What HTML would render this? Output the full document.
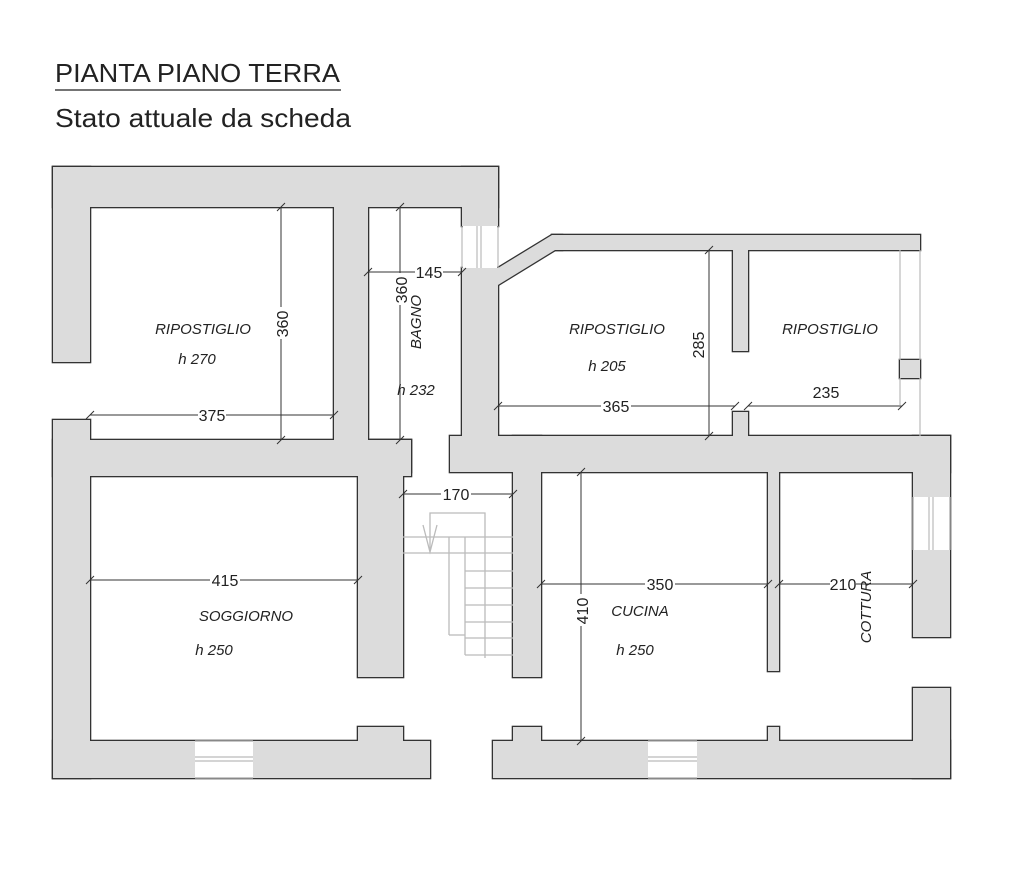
<!DOCTYPE html>
<html><head><meta charset="utf-8"><style>
html,body{margin:0;padding:0;background:#fff}
svg{display:block}
text{font-family:"Liberation Sans",sans-serif;fill:#222}
.it{font-style:italic;font-size:15px}
.d{font-size:16px}
</style></head><body>
<svg width="1024" height="879" viewBox="0 0 1024 879" xmlns="http://www.w3.org/2000/svg">
<rect width="1024" height="879" fill="#fff"/>
<text x="55" y="82" font-size="26" textLength="285" lengthAdjust="spacingAndGlyphs">PIANTA PIANO TERRA</text>
<line x1="55" y1="90" x2="341" y2="90" stroke="#222" stroke-width="1.2"/>
<text x="55" y="127" font-size="26" textLength="296" lengthAdjust="spacingAndGlyphs">Stato attuale da scheda</text>

<defs>
<g id="walls">
<rect x="53" y="167" width="445" height="40"/>
<rect x="53" y="167" width="37" height="195"/>
<rect x="334" y="200" width="34" height="250"/>
<rect x="462" y="167" width="36" height="59"/>
<rect x="462" y="268" width="36" height="180"/>
<polygon points="490,268 498,268 552,235 562,235 562,250 555,250 498,285 490,285"/>
<rect x="552" y="235" width="368" height="15"/>
<rect x="733" y="245" width="15" height="106"/>
<rect x="733" y="412" width="15" height="30"/>
<rect x="900" y="360" width="20" height="18"/>
<rect x="53" y="440" width="358" height="36"/>
<rect x="403" y="440" width="8" height="32"/>
<rect x="53" y="420" width="37" height="358"/>
<rect x="358" y="440" width="45" height="237"/>
<rect x="53" y="741" width="377" height="37"/>
<rect x="358" y="727" width="45" height="20"/>
<rect x="450" y="436" width="500" height="36"/>
<rect x="513" y="436" width="28" height="241"/>
<rect x="768" y="466" width="11" height="205"/>
<rect x="913" y="436" width="37" height="201"/>
<rect x="913" y="688" width="37" height="90"/>
<rect x="493" y="741" width="457" height="37"/>
<rect x="513" y="727" width="28" height="20"/>
<rect x="768" y="727" width="11" height="20"/>
</g>
</defs>
<use href="#walls" fill="#555" stroke="#333" stroke-width="2.6"/>
<use href="#walls" fill="#dcdcdc"/>

<!-- windows -->
<g stroke="#bbb" stroke-width="1.2" fill="#fff">
<rect x="463" y="226" width="34" height="42" stroke="none"/>
<line x1="462" y1="226" x2="462" y2="268"/><line x1="477" y1="226" x2="477" y2="268"/><line x1="481" y1="226" x2="481" y2="268"/><line x1="498" y1="226" x2="498" y2="268"/>
<rect x="195" y="742" width="58" height="35" stroke="none"/>
<line x1="195" y1="741" x2="253" y2="741"/><line x1="195" y1="757" x2="253" y2="757"/><line x1="195" y1="761" x2="253" y2="761"/><line x1="195" y1="778" x2="253" y2="778"/>
<rect x="648" y="742" width="49" height="35" stroke="none"/>
<line x1="648" y1="741" x2="697" y2="741"/><line x1="648" y1="757" x2="697" y2="757"/><line x1="648" y1="761" x2="697" y2="761"/><line x1="648" y1="778" x2="697" y2="778"/>
<rect x="914" y="497" width="35" height="53" stroke="none"/>
<line x1="913" y1="497" x2="913" y2="550"/><line x1="929" y1="497" x2="929" y2="550"/><line x1="933" y1="497" x2="933" y2="550"/><line x1="950" y1="497" x2="950" y2="550"/>
<line x1="900" y1="250" x2="900" y2="360"/><line x1="920" y1="250" x2="920" y2="360"/>
<line x1="900" y1="378" x2="900" y2="405"/><line x1="920" y1="378" x2="920" y2="436"/>
</g>

<!-- stairs -->
<g stroke="#bbb" stroke-width="1.3" fill="none">
<polyline points="430,550 430,513 485,513 485,658"/>
<line x1="403" y1="537" x2="513" y2="537"/>
<line x1="403" y1="553" x2="513" y2="553"/>
<line x1="449" y1="537" x2="449" y2="635"/>
<line x1="449" y1="635" x2="465" y2="635"/>
<line x1="465" y1="537" x2="465" y2="655"/>
<line x1="465" y1="571" x2="513" y2="571"/>
<line x1="465" y1="588" x2="513" y2="588"/>
<line x1="465" y1="605" x2="513" y2="605"/>
<line x1="465" y1="622" x2="513" y2="622"/>
<line x1="465" y1="638" x2="513" y2="638"/>
<line x1="465" y1="655" x2="513" y2="655"/>
<polyline points="423,525 430,552 437,525"/>
</g>

<!-- dimension lines -->
<g stroke="#333" stroke-width="1" fill="none">
<line x1="281" y1="207" x2="281" y2="440"/>
<line x1="90" y1="415" x2="334" y2="415"/>
<line x1="368" y1="272" x2="462" y2="272"/>
<line x1="400" y1="207" x2="400" y2="440"/>
<line x1="498" y1="406" x2="735" y2="406"/>
<line x1="709" y1="250" x2="709" y2="436"/>
<line x1="748" y1="406" x2="902" y2="406"/>
<line x1="403" y1="494" x2="513" y2="494"/>
<line x1="90" y1="580" x2="358" y2="580"/>
<line x1="541" y1="584" x2="768" y2="584"/>
<line x1="779" y1="584" x2="913" y2="584"/>
<line x1="581" y1="472" x2="581" y2="741"/>
</g>
<g stroke="#333" stroke-width="1">
<path d="M277,211l8,-8M277,444l8,-8M86,419l8,-8M330,419l8,-8M364,276l8,-8M458,276l8,-8M396,211l8,-8M396,444l8,-8M494,410l8,-8M731,410l8,-8M705,254l8,-8M705,440l8,-8M744,410l8,-8M898,410l8,-8M399,498l8,-8M509,498l8,-8M86,584l8,-8M354,584l8,-8M537,588l8,-8M764,588l8,-8M775,588l8,-8M909,588l8,-8M577,476l8,-8M577,745l8,-8"/>
</g>
<g class="d" text-anchor="middle">
<rect x="198" y="406" width="28" height="18" fill="#fff"/><text x="212" y="421">375</text>
<rect x="415" y="263" width="28" height="18" fill="#fff"/><text x="429" y="278">145</text>
<rect x="601" y="397" width="30" height="18" fill="#fff"/><text x="616" y="412">365</text>
<text x="826" y="398">235</text>
<rect x="441" y="485" width="30" height="18" fill="#fff"/><text x="456" y="500">170</text>
<rect x="210" y="571" width="30" height="18" fill="#fff"/><text x="225" y="586">415</text>
<rect x="645" y="575" width="30" height="18" fill="#fff"/><text x="660" y="590">350</text>
<rect x="830" y="575" width="26" height="18" fill="#fff"/><text x="843" y="590">210</text>
<rect x="272" y="307" width="18" height="32" fill="#fff"/><text transform="translate(288,324) rotate(-90)">360</text>
<rect x="391" y="273" width="18" height="32" fill="#fff"/><text transform="translate(407,290) rotate(-90)">360</text>
<rect x="688" y="328" width="18" height="32" fill="#fff"/><text transform="translate(704,345) rotate(-90)">285</text>
<rect x="572" y="594" width="18" height="32" fill="#fff"/><text transform="translate(588,611) rotate(-90)">410</text>
</g>
<g class="it" text-anchor="middle">
<text x="203" y="334">RIPOSTIGLIO</text>
<text x="197" y="364">h 270</text>
<text x="617" y="334">RIPOSTIGLIO</text>
<text x="607" y="371">h 205</text>
<text x="830" y="334">RIPOSTIGLIO</text>
<text x="416" y="395">h 232</text>
<text transform="translate(421,322) rotate(-90)">BAGNO</text>
<text x="246" y="621">SOGGIORNO</text>
<text x="214" y="655">h 250</text>
<text x="640" y="616">CUCINA</text>
<text x="635" y="655">h 250</text>
<text transform="translate(871,607) rotate(-90)">COTTURA</text>
</g>
</svg>
</body></html>
